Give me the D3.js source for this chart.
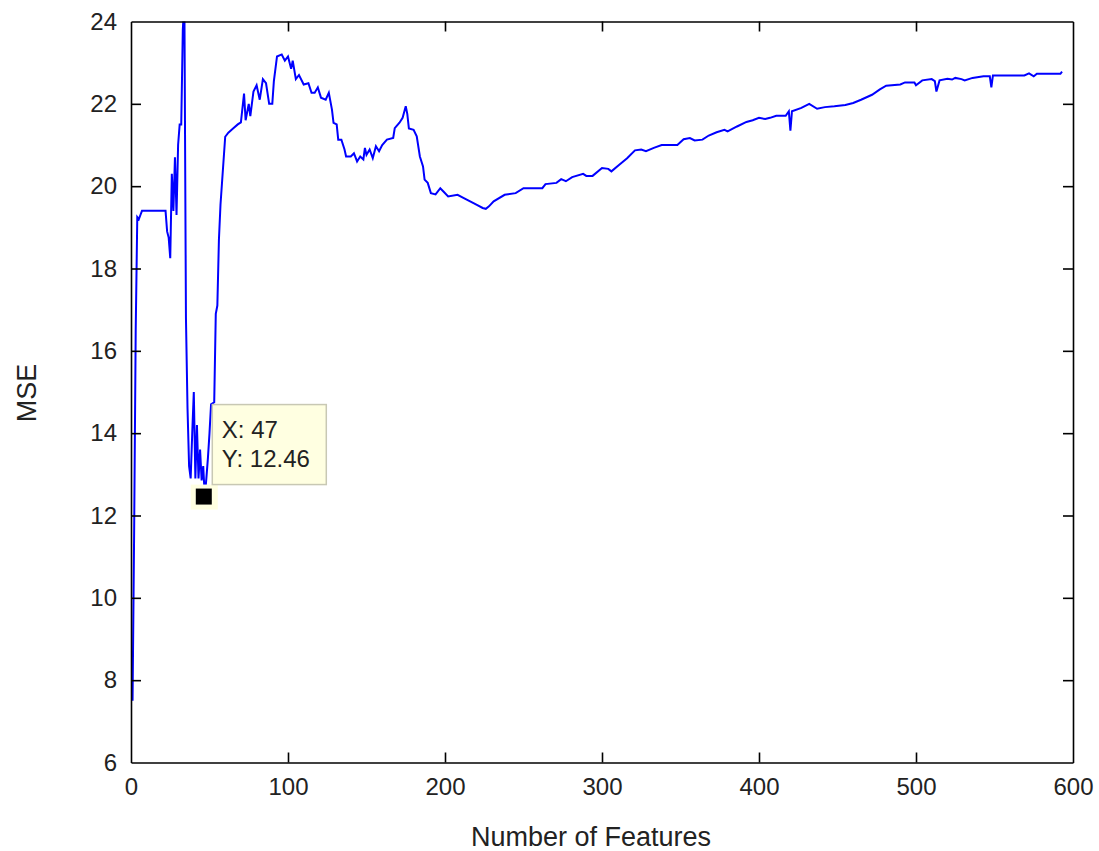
<!DOCTYPE html>
<html>
<head>
<meta charset="utf-8">
<script src="https://cdn.jsdelivr.net/npm/d3@7/dist/d3.min.js"></script>
<style>
  html, body { margin: 0; padding: 0; background: #fff; }
  svg { display: block; }
  text { font-family: "Liberation Sans", Arial, sans-serif; fill: #222; }
</style>
</head>
<body>
<svg id="chart" width="1099" height="851"></svg>
<script>
// ---- data ----
const features = [1,2,3,4,5,6,7,22,23,24,25,26,27,28,29,30,31,32,33,34,35,36,37,38,39,40,41,42,43,44,45,46,47,48,49,50,51,53,54,55,56,57,58,60,62,65,68,70,72,73,75,76,78,80,82,84,86,88,90,91,93,96,98,100,102,103,105,107,110,113,115,117,119,121,124,126,128,129,131,132,134,136,137,140,142,144,146,148,149,150,152,154,156,158,160,163,167,168,171,173,175,176,177,180,182,184,186,187,189,191,194,197,199,202,208,212,216,220,224,226,228,231,238,245,250,262,264,271,274,277,281,288,290,294,300,304,306,311,316,321,325,328,333,338,348,352,356,359,364,368,373,378,380,386,392,396,400,404,407,411,417,419,420,421,427,432,437,442,448,455,460,465,472,477,481,490,493,499,500,504,510,512,513,515,520,523,525,529,531,536,543,547,548,549,569,572,575,577,592,593];
const mse = [7.5,11.6,16.5,19.25,19.2,19.3,19.4,19.4,18.9,18.75,18.25,20.3,19.4,20.7,19.3,21.0,21.5,21.5,23.8,24.5,16.8,14.6,13.2,12.9,14.0,15.0,12.9,14.2,12.9,13.6,12.85,13.2,12.46,12.9,13.4,14.0,14.7,14.75,16.9,17.1,18.7,19.55,20.1,21.2,21.3,21.4,21.5,21.55,22.25,21.6,22.0,21.7,22.3,22.45,22.1,22.6,22.5,22.0,22.0,22.55,23.15,23.2,23.05,23.15,22.85,23.05,22.6,22.7,22.47,22.5,22.27,22.27,22.4,22.15,22.1,22.27,21.86,21.54,21.5,21.13,21.13,20.89,20.72,20.72,20.8,20.6,20.72,20.65,20.93,20.76,20.89,20.68,20.97,20.85,21.0,21.13,21.17,21.41,21.54,21.66,21.94,21.75,21.4,21.37,21.21,20.72,20.48,20.16,20.08,19.83,19.8,19.95,19.87,19.75,19.79,19.71,19.63,19.55,19.47,19.45,19.51,19.63,19.79,19.83,19.95,19.95,20.05,20.08,20.17,20.12,20.22,20.3,20.25,20.25,20.44,20.42,20.36,20.52,20.68,20.87,20.89,20.85,20.93,21.0,21.0,21.14,21.17,21.11,21.13,21.23,21.31,21.37,21.33,21.45,21.56,21.6,21.66,21.63,21.66,21.71,21.71,21.82,21.35,21.82,21.9,22.0,21.88,21.92,21.94,21.97,22.02,22.1,22.22,22.35,22.44,22.47,22.52,22.52,22.45,22.57,22.6,22.55,22.3,22.57,22.61,22.59,22.63,22.6,22.57,22.63,22.67,22.67,22.4,22.69,22.69,22.74,22.67,22.73,22.73,22.78];
const xTicks = [0,100,200,300,400,500,600];
const yTicks = [6,8,10,12,14,16,18,20,22,24];
const tipX = 47;
const tipY = 12.46;
const xLabel = "Number of Features";
const yLabel = "MSE";

// ---- layout ----
const L = 131, R = 1073, T = 21.5, B = 762.5;
const svg = d3.select("#chart");
const x = d3.scaleLinear().domain([0, 600]).range([L, R]);
const y = d3.scaleLinear().domain([6, 24]).range([B, T]);

svg.append("defs").append("clipPath").attr("id", "plotclip")
  .append("rect").attr("x", L).attr("y", T).attr("width", R - L).attr("height", B - T);

// line
const pts = features.map((f, i) => [f, mse[i]]);
svg.append("path")
  .datum(pts)
  .attr("clip-path", "url(#plotclip)")
  .attr("fill", "none")
  .attr("stroke", "#0000ff")
  .attr("stroke-width", 2)
  .attr("stroke-linejoin", "miter")
  .attr("d", d3.line().x(d => x(d[0])).y(d => y(d[1])));

// axes (MATLAB style box with inward ticks)
const tickLen = 10;
const fs = 24;
const gB = svg.append("g").attr("transform", `translate(0,${B})`)
  .call(d3.axisBottom(x).tickValues(xTicks).tickSizeInner(-tickLen).tickSizeOuter(0).tickPadding(14));
const gT = svg.append("g").attr("transform", `translate(0,${T})`)
  .call(d3.axisTop(x).tickValues(xTicks).tickSizeInner(-tickLen).tickSizeOuter(0).tickFormat(""));
const gL = svg.append("g").attr("transform", `translate(${L},0)`)
  .call(d3.axisLeft(y).tickValues(yTicks).tickSizeInner(-tickLen).tickSizeOuter(0).tickPadding(14));
const gR = svg.append("g").attr("transform", `translate(${R},0)`)
  .call(d3.axisRight(y).tickValues(yTicks).tickSizeInner(-tickLen).tickSizeOuter(0).tickFormat(""));
[gB, gT, gL, gR].forEach(g => {
  g.select(".domain").attr("stroke", "#000").attr("stroke-width", 1.6);
  g.selectAll(".tick line").attr("stroke", "#000").attr("stroke-width", 1.6);
  g.selectAll(".tick text").attr("font-size", fs).attr("fill", "#222")
    .attr("font-family", "'Liberation Sans', Arial, sans-serif");
});
gB.selectAll(".tick text").attr("dy", "0.75em");
// hide ticks on the ends that coincide with box edges
gB.selectAll(".tick").filter(d => d === 0 || d === 600).select("line").remove();
gT.selectAll(".tick").filter(d => d === 0 || d === 600).select("line").remove();
gL.selectAll(".tick").filter(d => d === 6 || d === 24).select("line").remove();
gR.selectAll(".tick").filter(d => d === 6 || d === 24).select("line").remove();

// axis labels
svg.append("text").attr("x", 591).attr("y", 846)
  .attr("text-anchor", "middle").attr("font-size", 27).text(xLabel);
svg.append("text").attr("transform", `translate(36,393) rotate(-90)`)
  .attr("text-anchor", "middle").attr("font-size", 27).text(yLabel);

// data tip
const mx = x(tipX), my = y(tipY);
const tip = svg.append("g");
tip.append("rect").attr("x", mx - 14).attr("y", my - 12).attr("width", 27).attr("height", 25)
  .attr("fill", "#ffffe1");
tip.append("rect").attr("x", mx + 7.5).attr("y", my - 92).attr("width", 114).attr("height", 80)
  .attr("fill", "#ffffe1").attr("stroke", "#c8c8b4").attr("stroke-width", 1.5);
tip.append("rect").attr("x", mx - 9).attr("y", my - 8).attr("width", 16).attr("height", 16)
  .attr("fill", "#000");
tip.append("text").attr("x", mx + 17).attr("y", my - 59).attr("font-size", fs).text("X: " + tipX);
tip.append("text").attr("x", mx + 17).attr("y", my - 30).attr("font-size", fs).text("Y: " + tipY);
</script>
</body>
</html>
